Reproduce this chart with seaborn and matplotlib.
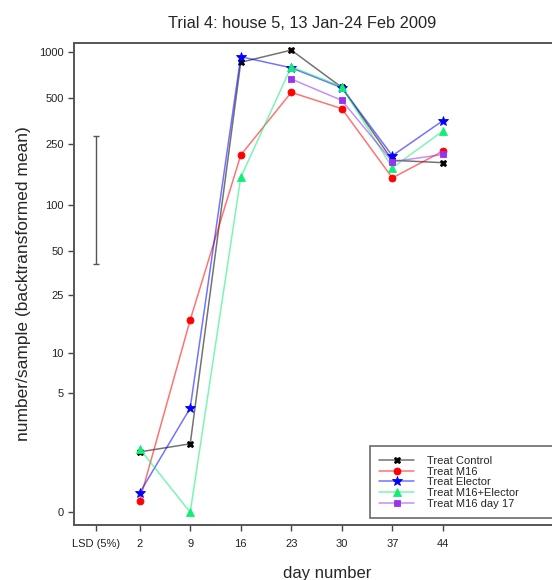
import numpy as np
import pandas as pd
import matplotlib
matplotlib.use("Agg")
import matplotlib.pyplot as plt
import seaborn as sns

sns.set_style("ticks")
plt.rcParams['font.family'] = ['Liberation Sans', 'DejaVu Sans']

days = [2, 9, 16, 23, 30, 37, 44]
days_m16_d17 = [23, 30, 37, 44]
control = [1.48, 1.80, 862, 1035, 591, 197, 190]
m16 = [0.19, 17.0, 213, 548, 429, 151, 226]
elector = [0.34, 3.79, 937, 793, 588, 211, 358]
m16_elector = [1.6, 0.0, 152, 806, 597, 176, 306]
m16_day17 = [670, 486, 193, 215]

series_names = ["Treat Control", "Treat M16", "Treat Elector",
                "Treat M16+Elector", "Treat M16 day 17"]
lsd_x = -4
lsd_low = 41
lsd_high = 284

xtick_pos = [-4, 2, 9, 16, 23, 30, 37, 44]
xtick_labels = ["LSD (5%)", "2", "9", "16", "23", "30", "37", "44"]
ytick_vals = [0, 5, 10, 25, 50, 100, 250, 500, 1000]

colors = ["#000000", "#ff0000", "#0000ff", "#11ee77", "#9933ee"]
markers = ["X", "o", "*", "^", "s"]
msizes = [5, 5, 7.5, 6, 5]

fig = plt.figure(figsize=(5.52, 5.80), dpi=100)
ax = fig.add_axes([74/552, 1 - 525/580, (580 - 74)/552, (525 - 43)/580])
ax.set_yscale('function', functions=(np.log1p, np.expm1))

data = [(days, control), (days, m16), (days, elector), (days, m16_elector),
        (days_m16_d17, m16_day17)]
for (x, y), name, c, m, ms in zip(data, series_names, colors, markers, msizes):
    df = pd.DataFrame({"day": x, "value": y})
    rgb = matplotlib.colors.to_rgb(c)
    sns.lineplot(data=df, x="day", y="value", ax=ax, label=name,
                 color=rgb + (0.55,), marker=m, markersize=ms,
                 markerfacecolor=c, markeredgecolor=c, markeredgewidth=0.6,
                 linewidth=1.1)

mid = np.expm1((np.log1p(lsd_low) + np.log1p(lsd_high)) / 2)
ax.errorbar([lsd_x], [mid], yerr=[[mid - lsd_low], [lsd_high - mid]],
            fmt='none', ecolor='#555555', elinewidth=1.0, capsize=2.2, capthick=1.0)

ax.set_xlim(-7.1, 63)
ax.set_ylim(np.expm1(-0.19), np.expm1(7.05))
ax.set_xticks(xtick_pos)
ax.set_xticklabels(xtick_labels)
ax.set_yticks(ytick_vals)
ax.set_yticklabels([str(v) for v in ytick_vals])
ax.minorticks_off()
ax.tick_params(axis='both', labelsize=8, length=4, width=1, color='#444444',
               labelcolor='#222222')
ax.tick_params(axis='x', pad=6)
for s in ax.spines.values():
    s.set_color('#555555')
    s.set_linewidth(1.4)

ax.set_xlabel("day number", fontsize=12, labelpad=12)
ax.set_ylabel("number/sample (backtransformed mean)", fontsize=12.5, labelpad=6)
fig.text(302/552, 1 - 24/580, "Trial 4: house 5, 13 Jan-24 Feb 2009",
         ha='center', va='center', fontsize=11.8)

aw = 506
ah = 482
leg = ax.legend(loc='lower left',
                bbox_to_anchor=((370 - 74)/aw, (525 - 518)/ah, (600 - 370)/aw, 0.2),
                mode='expand', borderaxespad=0, fontsize=8, labelspacing=0.06,
                handlelength=3.1, handletextpad=1.2, borderpad=0.85,
                fancybox=False, frameon=True)
leg.get_frame().set_edgecolor('#444444')
leg.get_frame().set_linewidth(1.2)

fig.savefig("out.png", dpi=100)
